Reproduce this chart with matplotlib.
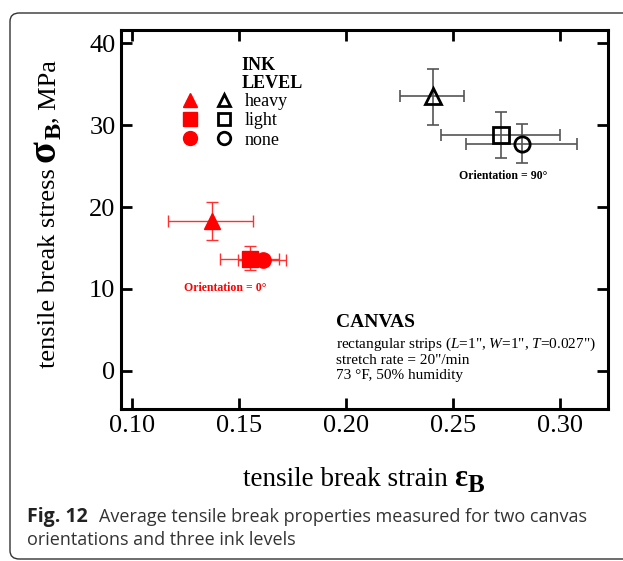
import matplotlib.pyplot as plt
from matplotlib.patches import FancyBboxPatch
from matplotlib.legend_handler import HandlerTuple
from matplotlib.lines import Line2D

# data
levels = ['heavy', 'light', 'none']
markers = ['^', 's', 'o']

# orientation 0 deg (red)
strain_0 = [0.1374, 0.1553, 0.1612]
strain_0_lo = [0.1171, 0.1410, 0.1497]
strain_0_hi = [0.1568, 0.1690, 0.1720]
stress_0 = [18.3, 13.7, 13.5]
stress_0_lo = [16.0, 12.3, 12.9]
stress_0_hi = [20.6, 15.2, 14.1]

# orientation 90 deg (black)
strain_90 = [0.2405, 0.2724, 0.2822]
strain_90_lo = [0.2254, 0.2445, 0.2562]
strain_90_hi = [0.2551, 0.2999, 0.3080]
stress_90 = [33.5, 28.75, 27.7]
stress_90_lo = [30.0, 26.0, 25.4]
stress_90_hi = [36.8, 31.6, 30.1]

x_ticks = [0.10, 0.15, 0.20, 0.25, 0.30]
y_ticks = [0, 10, 20, 30, 40]

plt.rcParams['font.family'] = ['Liberation Serif', 'DejaVu Serif']
plt.rcParams['mathtext.fontset'] = 'custom'
plt.rcParams['mathtext.rm'] = 'Liberation Serif'
plt.rcParams['mathtext.bf'] = 'Liberation Serif:bold'
plt.rcParams['mathtext.it'] = 'Liberation Serif:italic'

W, H = 623, 561
fig = plt.figure(figsize=(W / 100, H / 100), dpi=100)
ax = fig.add_axes([121 / W, 1 - 409 / H, (608 - 121) / W, (409 - 30) / H])

# rounded frame round the figure
frame = FancyBboxPatch((10 / W, 2 / H), 1.05, (559 - 13) / H,
                       boxstyle='round,pad=0,rounding_size=0.015',
                       transform=fig.transFigure, fc='none', ec='#333333',
                       lw=1.0, clip_on=False)
fig.patches.append(frame)

handles = []
for i in range(3):
    xe = [[strain_0[i] - strain_0_lo[i]], [strain_0_hi[i] - strain_0[i]]]
    ye = [[stress_0[i] - stress_0_lo[i]], [stress_0_hi[i] - stress_0[i]]]
    ax.errorbar(strain_0[i], stress_0[i], xerr=xe, yerr=ye, fmt='none',
                ecolor='#ff3030', elinewidth=1.0, capsize=4, capthick=1.0, zorder=2)
for i in range(3):
    xe = [[strain_90[i] - strain_90_lo[i]], [strain_90_hi[i] - strain_90[i]]]
    ye = [[stress_90[i] - stress_90_lo[i]], [stress_90_hi[i] - stress_90[i]]]
    ax.errorbar(strain_90[i], stress_90[i], xerr=xe, yerr=ye, fmt='none',
                ecolor='#555555', elinewidth=1.2, capsize=4, capthick=1.2, zorder=2)

msize = [12, 11, 11]
for i in range(3):
    ax.plot(strain_0[i], stress_0[i], marker=markers[i], ms=msize[i], color='red',
            mec='red', ls='none', zorder=3)
    ax.plot(strain_90[i], stress_90[i], marker=markers[i], ms=msize[i], mfc='none',
            mec='black', mew=2.0, ls='none', zorder=3)
    red = Line2D([], [], marker=markers[i], ms=10, color='red', ls='none')
    blk = Line2D([], [], marker=markers[i], ms=9, mfc='none', mec='black',
                 mew=2.0, ls='none')
    handles.append((red, blk))

ax.legend(handles, levels, handler_map={tuple: HandlerTuple(ndivide=None, pad=1.2)},
          loc='upper left', bbox_to_anchor=(0.11, 0.857), frameon=False,
          fontsize=13, handlelength=2.6, handletextpad=0.8, labelspacing=0.12,
          borderpad=0)
ax.text(0.248, 0.929, 'INK\nLEVEL', transform=ax.transAxes, fontsize=13,
        fontweight='bold', va='top', ha='left', linespacing=1.05)

ax.text(0.785, 0.615, 'Orientation = 90°', transform=ax.transAxes, fontsize=8.5,
        fontweight='bold', ha='center', va='center')
ax.text(0.215, 0.32, 'Orientation = 0°', transform=ax.transAxes, fontsize=8.5,
        fontweight='bold', ha='center', va='center', color='red')

ax.text(0.442, 0.228, 'CANVAS', transform=ax.transAxes, fontsize=14,
        fontweight='bold', ha='left', va='center')
ax.text(0.442, 0.133,
        'rectangular strips ($\\it{L}$=1", $\\it{W}$=1", $\\it{T}$=0.027")\n'
        'stretch rate = 20"/min\n73 °F, 50% humidity',
        transform=ax.transAxes, fontsize=11, ha='left', va='center',
        linespacing=1.15)

ax.set_xlim(0.095, 0.3224)
ax.set_ylim(-4.65, 41.6)
ax.set_xticks(x_ticks)
ax.set_xticklabels(['%.2f' % v for v in x_ticks])
ax.set_yticks(y_ticks)
ax.tick_params(direction='in', length=8, width=2, labelsize=19, top=True, right=True,
               pad=4)
for sp in ax.spines.values():
    sp.set_linewidth(2.2)


# axis labels built from pieces so the greek symbol can be bigger
def label_pieces(pieces, x0, y0, rot):
    r = fig.canvas.get_renderer()
    pos = x0 if rot == 0 else y0
    for s, size, weight, shift, gap in pieces:
        if rot == 0:
            t = fig.text(pos / W, 1 - (y0 + shift) / H, s, fontsize=size,
                         fontweight=weight, ha='left', va='baseline')
            pos = t.get_window_extent(r).x1 + gap
        else:
            t = fig.text((x0 + shift) / W, 1 - pos / H, s, fontsize=size,
                         fontweight=weight, rotation=90, rotation_mode='anchor',
                         ha='left', va='baseline')
            pos = H - t.get_window_extent(r).y1 - gap


label_pieces([('tensile break strain', 19.5, 'normal', 0, 6),
              ('ε', 22, 'bold', 0, 1),
              ('B', 18, 'bold', 6, 0)], 243, 486, 0)
label_pieces([('tensile break stress', 19, 'normal', 0, 6),
              ('σ', 29, 'bold', 0, 1),
              ('B', 17.5, 'bold', 6, 0),
              (', MPa', 19, 'normal', 0, 0)], 55, 368, 90)

# caption
fig.text(27 / W, 1 - 522 / H, 'Fig. 12', fontsize=14, fontweight='bold',
         family='Open Sans', va='baseline', ha='left', color='#222222')
fig.text(99 / W, 1 - 522 / H,
         'Average tensile break properties measured for two canvas',
         fontsize=13, family='Open Sans', va='baseline', ha='left', color='#333333')
fig.text(27 / W, 1 - 545 / H, 'orientations and three ink levels',
         fontsize=13, family='Open Sans', va='baseline', ha='left', color='#333333')

fig.savefig('out.png', dpi=100)
